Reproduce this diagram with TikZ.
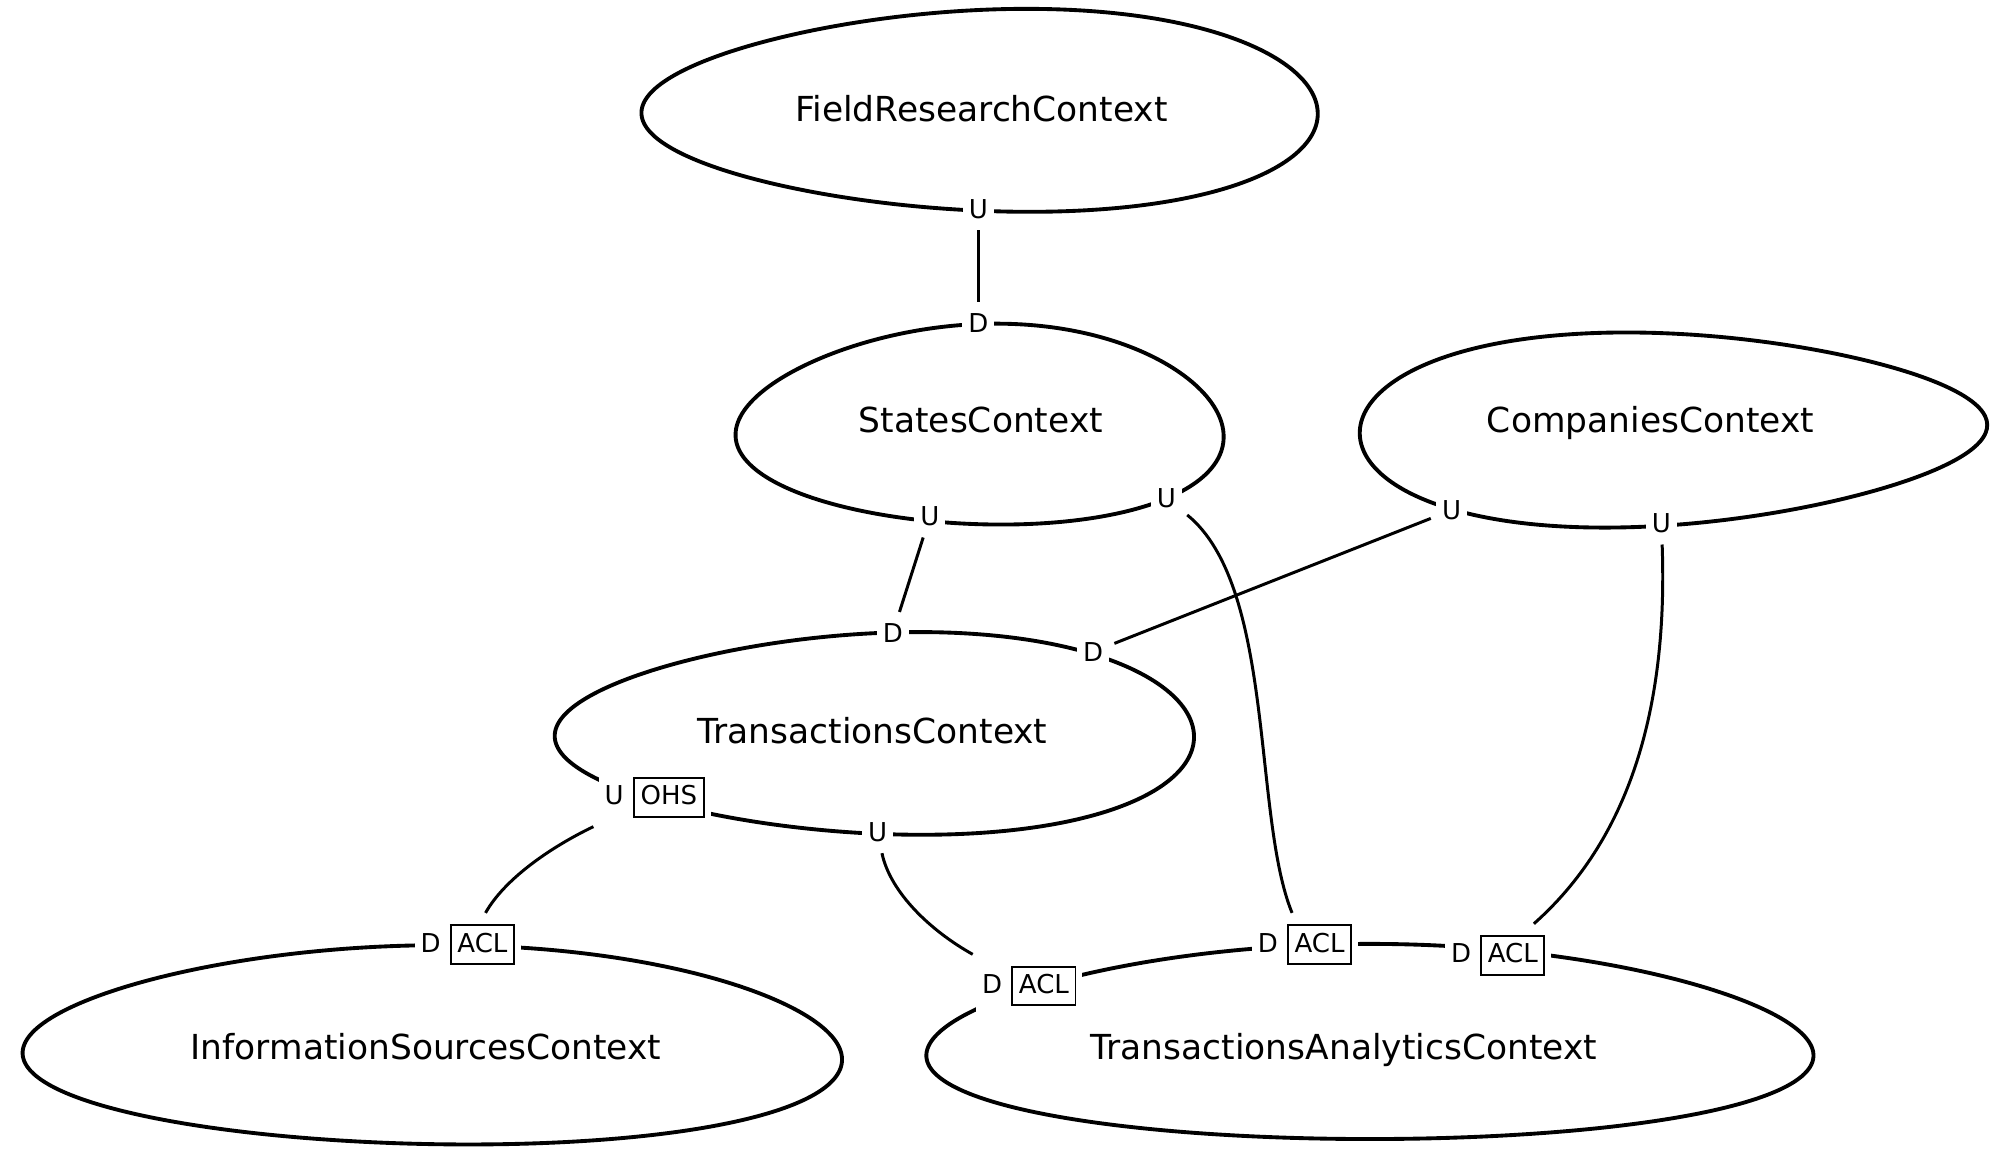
\documentclass[tikz,border=0pt]{standalone}
\usepackage{fontspec}
\setmainfont{DejaVu Sans}
\newcommand{\patternbox}[1]{{\setlength{\fboxsep}{1.6pt}\setlength{\fboxrule}{0.55pt}\fbox{\rule[-1.5pt]{0pt}{7.3pt}#1}}}
% centre x, centre y, half width, half height, widening of the lower half, widening of the right end, tilt
\newcommand{\ctxshape}[7]{\draw[outline,rotate around={#7:(#1,#2)}] plot[smooth cycle,domain=0:357,samples=120,variable=\ang] ({#1+#3*cos(\ang)*(1+#5*sin(\ang))},{#2+#4*sin(\ang)*(1+#6*cos(\ang))});}

\begin{document}
\begin{tikzpicture}[x=0.012755cm,y=-0.012755cm,
    ctx/.style={font=\fontsize{9.8}{12}\selectfont,text depth=0pt,inner sep=0pt},
    outline/.style={line width=1.1pt},
    lbl/.style={font=\fontsize{7.4}{9}\selectfont,fill=white,inner sep=1.7pt,outer sep=1.5pt},
    rel/.style={line width=0.85pt}]
    \useasboundingbox (0,0) rectangle (1568,913);
    \ctxshape{768}{86.5}{265}{78.7}{0.03}{0.15}{0}
    \ctxshape{768}{332.5}{190}{78.5}{0.12}{0.08}{0}
    \ctxshape{1312}{336.5}{246}{75}{0}{-0.2}{0.8}
    \ctxshape{685.5}{575}{250.5}{78.6}{0.03}{0.15}{0}
    \ctxshape{339}{819}{319}{78}{0.12}{0.05}{-0.4}
    \ctxshape{1074}{816.5}{344}{76.5}{0.15}{0}{0}
    \node[ctx] (field) at (769.5,85) {FieldResearchContext};
    \node[ctx] (states) at (769,329) {StatesContext};
    \node[ctx] (companies) at (1294,329) {CompaniesContext};
    \node[ctx] (trans) at (684,573) {TransactionsContext};
    \node[ctx] (info) at (334,820) {InformationSourcesContext};
    \node[ctx] (analytics) at (1053.5,820) {TransactionsAnalyticsContext};
    \foreach \n/\x/\y/\t in {fU/767/164/U, sD/767/253/D, sUa/729/405/U, sUb/914.5/390.5/U, cUa/1138/400/U, cUb/1302.5/410.5/U, tDa/700/496/D, tDb/857/511/D, tU/688/652.5/U}{
        \node[lbl] (\n) at (\x,\y) {\t};
    }
    \node[lbl] (tUo) at (513.3,625) {U\hspace{2.7pt}\patternbox{OHS}};
    \node[lbl] (iDa) at (366.8,740.5) {D\hspace{2.6pt}\patternbox{ACL}};
    \node[lbl] (aDa) at (807,773) {D\hspace{2.6pt}\patternbox{ACL}};
    \node[lbl] (aDb) at (1023.1,740.5) {D\hspace{2.6pt}\patternbox{ACL}};
    \node[lbl] (aDc) at (1174.6,749) {D\hspace{2.6pt}\patternbox{ACL}};
    \draw[rel] (fU) -- (sD);
    \draw[rel] (sUa) -- (tDa);
    \draw[rel] (sUb) .. controls (1000,460) and (982,640) .. (aDb);
    \draw[rel] (cUa) -- (tDb);
    \draw[rel] (cUb) .. controls (1308,560) and (1275,660) .. (aDc);
    \draw[rel] (tUo) .. controls (430,665) and (395,690) .. (iDa);
    \draw[rel] (tU) .. controls (698,700) and (730,730) .. (aDa);
\end{tikzpicture}
\end{document}
